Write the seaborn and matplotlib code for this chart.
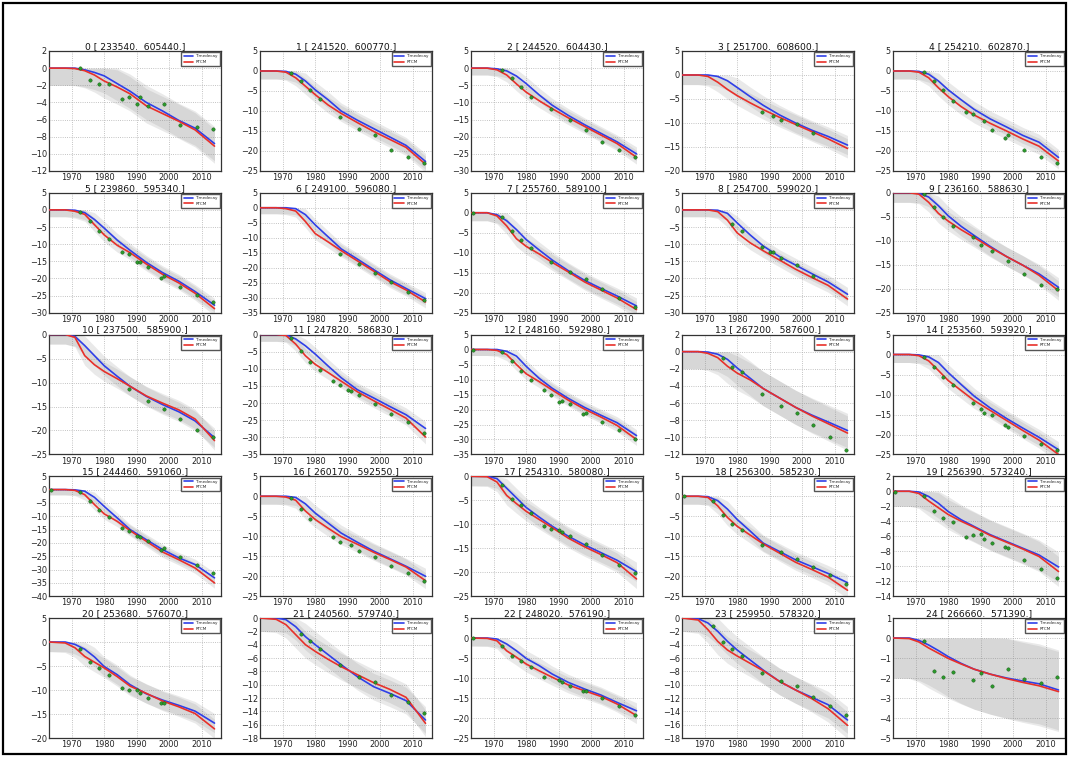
import numpy as np
import pandas as pd
import matplotlib
matplotlib.use("Agg")
import matplotlib.pyplot as plt
import seaborn as sns
from matplotlib.patches import Rectangle

# ---------------- data ----------------
YEARS = [1963, 1968, 1971, 1974, 1977, 1980, 1984, 1988, 1993, 1998, 2003, 2008, 2014]

TITLES = [
    "0 [ 233540.  605440.]", "1 [ 241520.  600770.]", "2 [ 244520.  604430.]",
    "3 [ 251700.  608600.]", "4 [ 254210.  602870.]", "5 [ 239860.  595340.]",
    "6 [ 249100.  596080.]", "7 [ 255760.  589100.]", "8 [ 254700.  599020.]",
    "9 [ 236160.  588630.]", "10 [ 237500.  585900.]", "11 [ 247820.  586830.]",
    "12 [ 248160.  592980.]", "13 [ 267200.  587600.]", "14 [ 253560.  593920.]",
    "15 [ 244460.  591060.]", "16 [ 260170.  592550.]", "17 [ 254310.  580080.]",
    "18 [ 256300.  585230.]", "19 [ 256390.  573240.]", "20 [ 253680.  576070.]",
    "21 [ 240560.  579740.]", "22 [ 248020.  576190.]", "23 [ 259950.  578320.]",
    "24 [ 266660.  571390.]",
]

Y_LIMITS = [(-12, 2), (-25, 5), (-30, 5), (-20, 5), (-25, 5),
            (-30, 5), (-35, 5), (-25, 5), (-30, 5), (-25, 0),
            (-25, 0), (-35, 0), (-35, 5), (-12, 2), (-25, 5),
            (-40, 5), (-25, 5), (-25, 0), (-25, 5), (-14, 2),
            (-20, 5), (-18, 0), (-25, 5), (-18, 0), (-5, 1)]
Y_STEPS = [2, 5, 5, 5, 5,
           5, 5, 5, 5, 5,
           5, 5, 5, 2, 5,
           5, 5, 5, 5, 2,
           5, 2, 5, 2, 1]

TIMEDECAY = [
    [0, 0, 0, -0.2, -0.5, -0.9, -1.8, -2.7, -4.0, -5.0, -6.1, -7.0, -8.8],
    [0, 0, -0.1, -0.8, -2.5, -4.7, -7.2, -10.0, -12.3, -14.4, -16.5, -18.6, -22.6],
    [0, 0, -0.2, -0.8, -2.3, -4.5, -7.8, -10.8, -13.8, -16.5, -19.0, -21.5, -25.0],
    [0, 0, 0, -0.3, -1.2, -2.6, -4.5, -6.3, -8.3, -10.0, -11.5, -12.8, -14.6],
    [0, 0, -0.1, -0.8, -2.5, -4.7, -7.2, -9.6, -12.0, -14.0, -16.1, -17.8, -21.6],
    [0, 0, -0.1, -0.8, -2.8, -5.3, -8.8, -11.8, -15.3, -18.3, -20.8, -23.8, -27.8],
    [0, 0, 0, -0.3, -2.3, -5.7, -9.7, -13.7, -17.1, -20.6, -24.0, -26.9, -30.3],
    [0, 0, -0.5, -2.0, -4.2, -6.7, -9.3, -11.8, -14.5, -16.9, -18.9, -20.8, -23.3],
    [0, 0, 0, -0.1, -1.0, -3.8, -7.3, -10.5, -13.6, -16.1, -18.6, -21.0, -24.6],
    [0, 0, -0.1, -0.9, -2.7, -4.8, -7.0, -8.9, -11.2, -13.3, -15.1, -16.9, -19.7],
    [0, 0, -0.4, -2.3, -4.4, -6.5, -8.7, -10.8, -12.9, -14.6, -16.1, -18.0, -21.5],
    [0, 0, -0.1, -1.3, -3.3, -5.7, -9.2, -12.6, -16.1, -18.5, -21.0, -23.4, -27.4],
    [0, 0, 0, -0.6, -2.2, -5.6, -9.6, -12.9, -16.3, -19.3, -21.9, -24.4, -28.7],
    [0, 0, -0.05, -0.3, -0.9, -1.9, -3.1, -4.3, -5.4, -6.5, -7.4, -8.2, -9.2],
    [0, 0, -0.1, -0.6, -2.0, -4.5, -7.5, -10.4, -13.4, -16.0, -18.4, -20.7, -23.8],
    [0, 0, -0.1, -0.6, -2.9, -6.3, -10.6, -15.0, -18.8, -22.5, -25.6, -28.1, -33.1],
    [0, 0, 0, -0.3, -1.9, -4.2, -6.7, -9.2, -11.5, -13.7, -15.6, -17.5, -20.0],
    [0, 0, -0.5, -2.5, -4.5, -6.5, -8.5, -10.4, -12.5, -14.3, -15.9, -17.5, -19.9],
    [0, 0, -0.1, -1.1, -3.2, -5.8, -8.7, -11.7, -13.8, -15.9, -17.6, -19.3, -21.6],
    [0, 0, -0.1, -0.7, -1.6, -2.7, -3.8, -4.7, -5.8, -6.7, -7.6, -8.5, -10.1],
    [0, 0, -0.5, -1.5, -3.1, -5.1, -6.8, -8.9, -10.8, -12.1, -13.2, -14.4, -16.9],
    [0, 0, -0.25, -1.3, -2.8, -4.0, -5.5, -7.0, -8.8, -10.3, -11.3, -12.4, -15.3],
    [0, 0, -0.25, -1.5, -3.2, -5.1, -6.9, -9.0, -11.1, -12.75, -14.25, -16.1, -18.2],
    [0, -0.1, -0.75, -2.0, -3.5, -4.8, -6.3, -7.8, -9.5, -10.8, -11.9, -13.0, -15.3],
    [0, 0, -0.12, -0.35, -0.63, -0.93, -1.27, -1.56, -1.81, -2.0, -2.15, -2.29, -2.6],
]

RTCM = [
    [0, 0, -0.05, -0.3, -0.8, -1.5, -2.2, -3.0, -4.4, -5.3, -6.2, -7.2, -9.1],
    [0, 0, -0.3, -1.7, -3.8, -5.9, -8.5, -10.6, -12.9, -15.1, -17.1, -19.1, -23.3],
    [0, 0, -0.5, -2.0, -4.6, -7.0, -9.5, -11.8, -14.5, -17.0, -19.5, -22.0, -26.0],
    [0, 0, -0.3, -1.5, -3.0, -4.3, -5.8, -7.2, -8.8, -10.3, -11.8, -13.3, -15.3],
    [0, 0, -0.3, -1.7, -4.2, -6.4, -8.9, -11.0, -13.1, -15.0, -17.0, -18.8, -22.5],
    [0, 0, -0.4, -1.3, -4.3, -7.3, -10.3, -12.5, -15.8, -18.8, -21.3, -24.3, -28.8],
    [0, 0, -0.3, -1.1, -4.6, -8.6, -11.4, -14.3, -17.7, -21.1, -24.6, -27.4, -31.4],
    [0, 0, -0.8, -3.3, -6.5, -8.4, -10.3, -12.4, -14.8, -17.3, -19.3, -21.3, -24.2],
    [0, 0, 0, -0.5, -3.0, -6.7, -9.6, -11.9, -14.6, -17.3, -19.7, -22.0, -26.0],
    [0, 0, -0.3, -2.0, -4.3, -5.9, -7.7, -9.3, -11.4, -13.3, -15.1, -17.2, -20.4],
    [0, 0, -0.6, -4.4, -6.3, -7.7, -9.2, -10.8, -12.8, -14.3, -15.7, -17.6, -22.1],
    [0, 0, -0.3, -2.8, -6.2, -8.7, -11.1, -13.6, -16.7, -19.3, -21.8, -24.4, -29.9],
    [0, 0, -0.3, -1.7, -5.0, -8.1, -10.7, -13.5, -16.9, -19.9, -22.5, -25.3, -30.0],
    [0, 0, -0.2, -0.7, -1.7, -2.5, -3.3, -4.3, -5.4, -6.5, -7.5, -8.4, -9.5],
    [0, 0, -0.3, -1.6, -4.0, -6.5, -9.0, -11.5, -14.0, -16.5, -19.0, -21.4, -25.0],
    [0, 0, -0.3, -1.9, -5.6, -9.1, -11.9, -15.4, -19.4, -23.4, -26.3, -29.4, -35.0],
    [0, 0, -0.2, -1.0, -3.7, -5.8, -8.0, -10.1, -12.0, -14.0, -15.8, -17.7, -21.1],
    [0, -0.1, -1.2, -4.0, -5.7, -7.3, -9.0, -10.7, -12.9, -14.7, -16.3, -18.0, -21.4],
    [0, 0, -0.3, -2.4, -5.3, -7.5, -9.7, -11.9, -14.2, -16.5, -18.3, -20.2, -23.5],
    [0, 0, -0.3, -1.3, -2.2, -3.1, -4.0, -4.8, -5.9, -6.8, -7.7, -8.7, -10.7],
    [0, -0.2, -1.2, -3.0, -4.2, -5.4, -7.2, -9.2, -10.7, -12.3, -13.5, -14.9, -18.1],
    [0, -0.2, -1.0, -2.5, -4.0, -5.0, -6.2, -7.3, -8.5, -9.7, -10.7, -11.9, -15.8],
    [0, -0.1, -0.7, -3.2, -4.8, -6.5, -8.2, -9.8, -11.75, -13.2, -14.6, -16.5, -19.4],
    [0, -0.3, -1.75, -3.5, -4.8, -5.7, -6.8, -7.9, -9.5, -10.8, -12.1, -13.6, -16.1],
    [0, -0.03, -0.2, -0.5, -0.76, -1.02, -1.3, -1.56, -1.81, -2.03, -2.22, -2.39, -2.68],
]

OBS_YEARS = [
    [1972.5, 1975.5, 1978.5, 1981.5, 1985.5, 1987.5, 1990, 1991, 1993.5, 1998.5, 2003.5, 2008.5, 2013.5],
    [1972.5, 1975.5, 1978.5, 1981.5, 1987.5, 1993.5, 1998.5, 2003.5, 2008.5, 2013.5],
    [1972.5, 1975.5, 1978.5, 1981.5, 1987.5, 1993.5, 1998.5, 2003.5, 2008.5, 2013.5],
    [1987.5, 1991, 1993.5, 1998.5, 2003.5],
    [1972.5, 1975.5, 1978.5, 1981.5, 1985.5, 1987.5, 1991, 1993.5, 1997.5, 1998.5, 2003.5, 2008.5, 2013.5],
    [1972.5, 1975.5, 1978.5, 1981.5, 1985.5, 1987.5, 1990, 1991, 1993.5, 1997.5, 1998.5, 2003.5, 2008.5, 2013.5],
    [1987.5, 1993.5, 1998.5, 2003.5, 2008.5, 2013.5],
    [1963.5, 1972.5, 1975.5, 1978.5, 1981.5, 1987.5, 1993.5, 1998.5, 2003.5, 2008.5, 2013.5],
    [1978.5, 1981.5, 1987.5, 1990, 1991, 1993.5, 1998.5, 2003.5],
    [1972.5, 1975.5, 1978.5, 1981.5, 1987.5, 1990, 1993.5, 1998.5, 2003.5, 2008.5, 2013.5],
    [1987.5, 1993.5, 1998.5, 2003.5, 2008.5, 2013.5],
    [1972.5, 1975.5, 1978.5, 1981.5, 1985.5, 1987.5, 1990, 1991, 1993.5, 1998.5, 2003.5, 2008.5, 2013.5],
    [1963.5, 1972.5, 1975.5, 1978.5, 1981.5, 1985.5, 1987.5, 1990, 1991, 1993.5, 1997.5, 1998.5, 2003.5, 2008.5, 2013.5],
    [1975.5, 1978.5, 1981.5, 1987.5, 1993.5, 1998.5, 2003.5, 2008.5, 2013.5],
    [1972.5, 1975.5, 1978.5, 1981.5, 1987.5, 1990, 1991, 1993.5, 1997.5, 1998.5, 2003.5, 2008.5, 2013.5],
    [1963.5, 1972.5, 1975.5, 1978.5, 1981.5, 1985.5, 1987.5, 1990, 1991, 1993.5, 1997.5, 1998.5, 2003.5, 2008.5, 2013.5],
    [1972.5, 1975.5, 1978.5, 1985.5, 1987.5, 1991, 1993.5, 1998.5, 2003.5, 2008.5, 2013.5],
    [1972.5, 1975.5, 1978.5, 1981.5, 1985.5, 1987.5, 1990, 1991, 1993.5, 1998.5, 2003.5, 2008.5, 2013.5],
    [1963.5, 1972.5, 1975.5, 1978.5, 1981.5, 1987.5, 1993.5, 1998.5, 2003.5, 2008.5, 2013.5],
    [1963.5, 1972.5, 1975.5, 1978.5, 1981.5, 1985.5, 1987.5, 1990, 1991, 1993.5, 1997.5, 1998.5, 2003.5, 2008.5, 2013.5],
    [1972.5, 1975.5, 1978.5, 1981.5, 1985.5, 1987.5, 1990, 1991, 1993.5, 1997.5, 1998.5],
    [1975.5, 1978.5, 1981.5, 1987.5, 1993.5, 1998.5, 2003.5, 2008.5, 2013.5],
    [1963.5, 1972.5, 1975.5, 1978.5, 1981.5, 1985.5, 1990, 1991, 1993.5, 1997.5, 1998.5, 2003.5, 2008.5, 2013.5],
    [1972.5, 1975.5, 1978.5, 1981.5, 1987.5, 1993.5, 1998.5, 2003.5, 2008.5, 2013.5],
    [1972.5, 1975.5, 1978.5, 1981.5, 1987.5, 1990, 1993.5, 1998.5, 2003.5, 2008.5, 2013.5],
]

OBS_VALUES = [
    [0.0, -1.4, -1.8, -1.8, -3.6, -3.4, -4.2, -3.4, -4.4, -4.2, -6.6, -6.9, -7.1],
    [-0.4, -2.5, -4.7, -6.9, -11.6, -14.6, -16.1, -19.7, -21.4, -22.9],
    [-0.5, -2.8, -5.5, -8.5, -12.0, -15.2, -18.0, -21.5, -23.8, -26.0],
    [-7.7, -8.6, -9.3, -10.2, -12.0],
    [-0.2, -2.4, -4.7, -7.4, -10.3, -10.8, -12.5, -14.8, -16.7, -16.1, -19.7, -21.6, -23.1],
    [-0.5, -3.3, -6.3, -8.6, -12.3, -13.0, -15.1, -15.1, -16.6, -19.8, -19.3, -22.5, -24.7, -26.9],
    [-15.4, -18.9, -21.7, -24.9, -28.0, -30.9],
    [0.0, -1.0, -4.6, -6.9, -8.8, -12.4, -14.8, -16.6, -19.1, -21.2, -23.5],
    [-4.0, -6.2, -10.7, -12.4, -12.4, -14.0, -16.2, -19.3],
    [-0.2, -3.0, -5.0, -6.9, -9.3, -10.9, -12.1, -14.3, -16.9, -19.2, -20.1],
    [-11.3, -13.9, -15.5, -17.7, -19.9, -21.4],
    [-1.0, -4.9, -7.9, -10.4, -13.6, -14.8, -16.1, -16.6, -17.5, -20.3, -23.2, -25.6, -28.6],
    [0.0, -0.9, -3.9, -7.3, -10.0, -13.6, -15.0, -17.5, -17.0, -18.2, -21.6, -21.2, -24.0, -26.9, -29.7],
    [-0.7, -1.8, -2.4, -5.0, -6.4, -7.2, -8.6, -10.0, -11.5],
    [-0.5, -3.0, -5.5, -7.5, -12.0, -13.5, -14.5, -15.0, -17.5, -18.0, -20.5, -22.5, -24.0],
    [0.0, -0.9, -4.1, -7.5, -10.4, -14.4, -15.6, -17.3, -17.9, -19.4, -22.8, -21.9, -25.4, -28.4, -31.3],
    [-0.5, -3.3, -5.8, -10.3, -11.5, -12.2, -13.6, -15.2, -17.5, -19.2, -21.3],
    [-1.8, -4.7, -6.0, -7.6, -10.3, -11.0, -11.3, -11.6, -12.5, -14.2, -16.4, -18.5, -20.2],
    [0.0, -1.3, -4.7, -6.9, -8.5, -12.1, -14.0, -15.6, -17.8, -19.8, -22.0],
    [-0.1, -0.6, -2.6, -3.5, -4.1, -6.1, -5.8, -5.7, -6.4, -6.9, -7.4, -7.6, -9.1, -10.4, -11.6],
    [-1.5, -4.2, -5.4, -6.8, -9.5, -9.9, -10.1, -10.7, -11.6, -12.8, -12.7],
    [-2.4, -3.5, -4.6, -7.1, -8.9, -9.6, -11.5, -12.6, -14.2],
    [0.0, -1.9, -4.4, -5.7, -7.3, -9.8, -10.5, -11.1, -11.9, -13.2, -13.2, -15.1, -16.9, -19.2],
    [-1.2, -3.6, -4.7, -5.7, -8.3, -9.4, -10.2, -11.9, -13.2, -14.6],
    [-0.17, -1.63, -1.97, -1.72, -2.09, -1.75, -2.39, -1.53, -2.05, -2.25, -1.93],
]

BAND_HALF_WIDTH = 2.0
MODELS = ["Timedecay", "RTCM"]

# ---------------- style ----------------
sns.set_style("whitegrid", {
    "axes.edgecolor": "#333333",
    "grid.color": "#b0b0b0",
    "grid.linestyle": ":",
    "xtick.direction": "in",
    "ytick.direction": "in",
})
plt.rcParams["font.family"] = ["DejaVu Sans"]
plt.rcParams["axes.linewidth"] = 0.9
plt.rcParams["grid.linewidth"] = 0.6

BLUE = "#2f3fe8"
RED = "#e8302a"
GREEN = "#2a9a2a"

W, H = 1069, 757
fig = plt.figure(figsize=(W / 100, H / 100), dpi=100)

AX_LEFT0, AX_PITCH_X, AX_W = 49, 211, 172
AX_TOP0, AX_PITCH_Y, AX_H = 51, 141.75, 120

for i in range(25):
    r, c = divmod(i, 5)
    left = (AX_LEFT0 + AX_PITCH_X * c) / W
    bottom = 1 - (AX_TOP0 + AX_PITCH_Y * r + AX_H) / H
    ax = fig.add_axes([left, bottom, AX_W / W, AX_H / H])

    for vals in (TIMEDECAY[i], RTCM[i]):
        v = np.asarray(vals, dtype=float)
        ax.fill_between(YEARS, v - BAND_HALF_WIDTH, np.minimum(v + BAND_HALF_WIDTH, 0),
                        color="#808080", alpha=0.17, lw=0, zorder=1)

    df = pd.DataFrame({
        "year": YEARS * 2,
        "value": TIMEDECAY[i] + RTCM[i],
        "model": [MODELS[0]] * len(YEARS) + [MODELS[1]] * len(YEARS),
    })
    sns.lineplot(data=df, x="year", y="value", hue="model", hue_order=MODELS,
                 palette={MODELS[0]: BLUE, MODELS[1]: RED}, lw=1.2, ax=ax,
                 zorder=3, estimator=None)
    sns.scatterplot(x=OBS_YEARS[i], y=OBS_VALUES[i], color=GREEN, s=6,
                    edgecolor="#145214", linewidth=0.3, ax=ax, zorder=4)

    handles, labels = ax.get_legend_handles_labels()
    keep = [(h, l) for h, l in zip(handles, labels) if l in MODELS]
    ax.legend([h for h, _ in keep], [l for _, l in keep], loc="upper right",
              fontsize=3, handlelength=2.2, handletextpad=0.6, borderpad=0.5,
              labelspacing=0.4, frameon=True, framealpha=1, fancybox=False,
              edgecolor="#555555", borderaxespad=0.3)

    lo, hi = Y_LIMITS[i]
    step = Y_STEPS[i]
    ax.set_xlim(1963, 2016)
    ax.set_ylim(lo, hi)
    ax.set_xticks([1970, 1980, 1990, 2000, 2010])
    ax.set_yticks(np.arange(lo, hi + step / 2, step))
    ax.set_xlabel("")
    ax.set_ylabel("")
    ax.tick_params(labelsize=5.9, colors="#222222", length=2, pad=1.5)
    ax.set_title(TITLES[i], fontsize=6.6, pad=1.5, color="#111111")

fig.add_artist(Rectangle((3 / W, 3 / H), 1 - 6 / W, 1 - 6 / H, transform=fig.transFigure,
                         fill=False, edgecolor="black", lw=1.6))

fig.savefig("out.png", dpi=100)
